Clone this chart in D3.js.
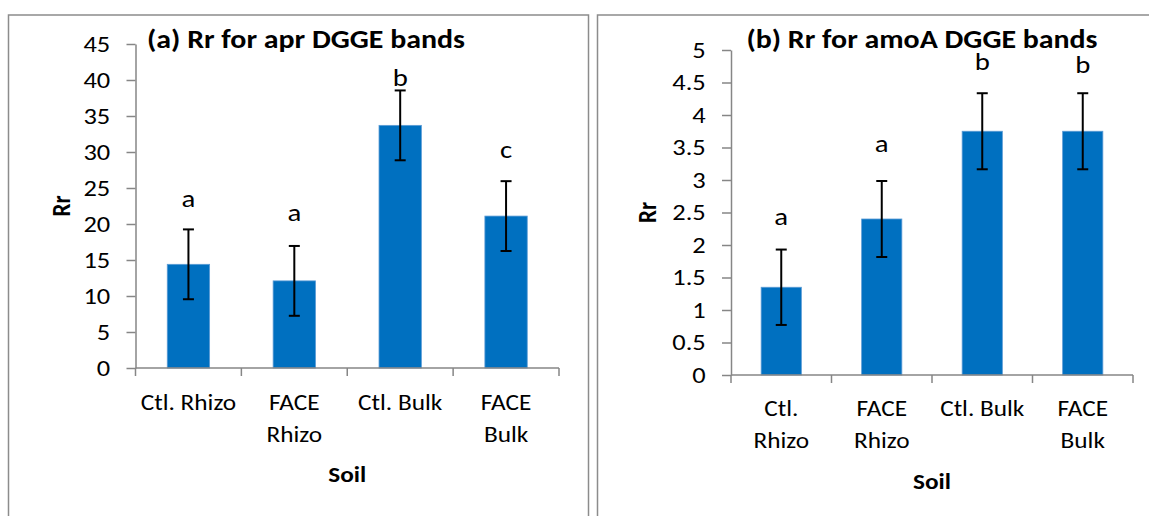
<!DOCTYPE html>
<html>
<head>
<meta charset="utf-8">
<script src="https://cdn.jsdelivr.net/npm/d3@7"></script>
<style>
  html, body { margin: 0; padding: 0; background: #fff; }
  svg { display: block; font-family: Carlito, Calibri, Lato, "Open Sans", sans-serif; }
</style>
</head>
<body>
<svg id="chart" width="1149" height="516"></svg>
<script>
// Soil compartments (x categories)
const soils = ["Ctl. Rhizo", "FACE Rhizo", "Ctl. Bulk", "FACE Bulk"];

// Panel (a): Rr for apr DGGE bands
const aprRr = [14.4, 12.1, 33.7, 21.1];
const aprErr = [4.85, 4.85, 4.85, 4.85];
const aprLetters = ["a", "a", "b", "c"];
const aprLetterAt = [22.4, 20.4, 39.2, 29.2];
const aprTicks = [0, 5, 10, 15, 20, 25, 30, 35, 40, 45];
const aprLabels = [["Ctl. Rhizo"], ["FACE", "Rhizo"], ["Ctl. Bulk"], ["FACE", "Bulk"]];

// Panel (b): Rr for amoA DGGE bands
const amoARr = [1.35, 2.4, 3.75, 3.75];
const amoAErr = [0.58, 0.585, 0.585, 0.585];
const amoALetters = ["a", "a", "b", "b"];
const amoALetterAt = [2.31, 3.43, 4.69, 4.65];
const amoATicks = [0, 0.5, 1, 1.5, 2, 2.5, 3, 3.5, 4, 4.5, 5];
const amoALabels = [["Ctl.", "Rhizo"], ["FACE", "Rhizo"], ["Ctl. Bulk"], ["FACE", "Bulk"]];

const svg = d3.select("#chart");
const BAR = "#0070C0";
const AXIS = "#868686";
const SX = 1.15; // horizontal widening of the lettering

// text placed at (x, y) and widened horizontally
function wideText(parent, x, y, lines, size, weight, lineGap) {
  const t = parent.append("g").attr("transform", `translate(${x},${y}) scale(${SX},1)`)
    .append("text").attr("text-anchor", "middle").style("font-size", size + "px")
    .attr("font-weight", weight || "normal").attr("fill", "#000");
  [].concat(lines).forEach((line, k) => {
    t.append("tspan").attr("x", 0).attr("dy", k === 0 ? 0 : lineGap).text(line);
  });
  return t;
}

function drawPanel(p) {
  const g = svg.append("g");

  // outer frame
  g.append("rect")
    .attr("x", p.frame[0]).attr("y", p.frame[1])
    .attr("width", p.frame[2]).attr("height", p.frame[3])
    .attr("fill", "none").attr("stroke", "#8c8c8c").attr("stroke-width", 1.5);

  const x = d3.scaleBand().domain(soils).range([p.left, p.right]).paddingInner(0.6).paddingOuter(0.3);
  const xb = d3.scaleBand().domain(soils).range([p.left, p.right]);
  const y = d3.scaleLinear().domain([0, p.ticks[p.ticks.length - 1]]).range([p.bottom, p.top]);

  // bars
  g.selectAll("rect.bar").data(p.values).join("rect")
    .attr("class", "bar")
    .attr("x", (d, i) => x(soils[i]))
    .attr("y", d => y(d))
    .attr("width", x.bandwidth())
    .attr("height", d => y(0) - y(d))
    .attr("fill", BAR)
    .attr("stroke", "#5b9bd5").attr("stroke-width", 0.8);

  // y axis
  const yAxis = d3.axisLeft(y).tickValues(p.ticks).tickSize(9).tickSizeOuter(0).tickPadding(13)
    .tickFormat(d3.format("~g"));
  const ya = g.append("g").attr("transform", `translate(${p.left},0)`).call(yAxis)
    .attr("font-family", null).attr("font-size", null);
  ya.select(".domain").attr("stroke", AXIS).attr("stroke-width", 1.5);
  ya.selectAll(".tick line").attr("stroke", AXIS).attr("stroke-width", 1.5);
  ya.selectAll(".tick text").attr("fill", "#000").style("font-size", "23px")
    .attr("transform", `scale(${SX},1)`);

  // x axis with boundary ticks between categories
  const xa = g.append("g").attr("transform", `translate(0,${p.bottom})`);
  xa.append("line").attr("x1", p.left).attr("x2", p.right)
    .attr("stroke", AXIS).attr("stroke-width", 1.5);
  const bounds = soils.map(s => xb(s)).concat([p.right]);
  xa.selectAll("line.tk").data(bounds).join("line").attr("class", "tk")
    .attr("x1", d => d).attr("x2", d => d).attr("y1", 0).attr("y2", 8)
    .attr("stroke", AXIS).attr("stroke-width", 1.5);

  // category labels
  soils.forEach((s, i) => {
    wideText(g, xb(s) + xb.bandwidth() / 2, p.labelY, p.labels[i], 22, "normal", 32);
  });

  // error bars
  const cap = 5.5;
  p.values.forEach((v, i) => {
    const cx = x(soils[i]) + x.bandwidth() / 2;
    const hi = y(v + p.errors[i]), lo = y(v - p.errors[i]);
    const eg = g.append("g").attr("stroke", "#000").attr("stroke-width", 2);
    eg.append("line").attr("x1", cx).attr("x2", cx).attr("y1", hi).attr("y2", lo);
    eg.append("line").attr("x1", cx - cap).attr("x2", cx + cap).attr("y1", hi).attr("y2", hi);
    eg.append("line").attr("x1", cx - cap).attr("x2", cx + cap).attr("y1", lo).attr("y2", lo);
  });

  // significance letters
  p.letters.forEach((d, i) => {
    wideText(g, x(soils[i]) + x.bandwidth() / 2, y(p.letterAt[i]), d, 25);
  });

  // title
  wideText(g, p.titleX, p.titleY, p.title, 26, "bold");

  // axis titles
  g.append("text").attr("transform", `translate(${p.rrX},${(p.top + p.bottom) / 2}) rotate(-90) scale(1,${SX})`)
    .attr("text-anchor", "middle").style("font-size", "23px").attr("font-weight", "bold").text("Rr");
  wideText(g, (p.left + p.right) / 2, p.soilY, "Soil", 22, "bold");
}

drawPanel({
  frame: [8.5, 15, 580, 520],
  left: 135.5, right: 559, top: 44, bottom: 368,
  values: aprRr, errors: aprErr, letters: aprLetters, letterAt: aprLetterAt,
  ticks: aprTicks, labels: aprLabels, labelY: 410,
  title: "(a) Rr for apr DGGE bands", titleX: 306, titleY: 48,
  rrX: 70, soilY: 482
});

drawPanel({
  frame: [597.5, 15, 570, 520],
  left: 731, right: 1133, top: 50, bottom: 375,
  values: amoARr, errors: amoAErr, letters: amoALetters, letterAt: amoALetterAt,
  ticks: amoATicks, labels: amoALabels, labelY: 416,
  title: "(b) Rr for amoA DGGE bands", titleX: 922, titleY: 48,
  rrX: 656, soilY: 489
});
</script>
</body>
</html>
